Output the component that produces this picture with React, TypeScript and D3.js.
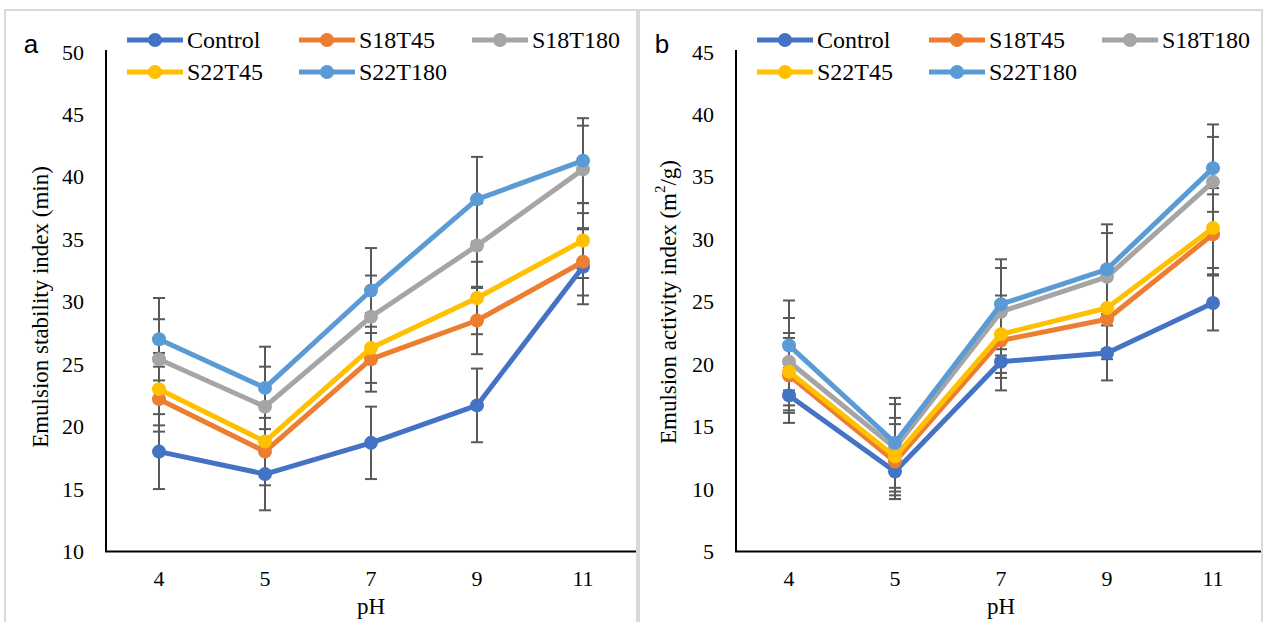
import React from "react";
import * as d3 from "d3";

const categories = ["4", "5", "7", "9", "11"];
const seriesNames = ["Control", "S18T45", "S18T180", "S22T45", "S22T180"];
const seriesColors = ["#4472C4", "#ED7D31", "#A5A5A5", "#FFC000", "#5B9BD5"];

// Panel a: Emulsion stability index (min)
const esiControl = [18.0, 16.2, 18.7, 21.7, 32.8];
const esiS18T45 = [22.2, 18.0, 25.4, 28.5, 33.2];
const esiS18T180 = [25.4, 21.6, 28.8, 34.5, 40.6];
const esiS22T45 = [23.0, 18.8, 26.3, 30.3, 34.9];
const esiS22T180 = [27.0, 23.1, 30.9, 38.2, 41.3];
const esiErrControl = [3.0, 2.9, 2.9, 2.95, 3.0];
const esiErrS18T45 = [2.6, 2.7, 2.6, 2.7, 2.7];
const esiErrS18T180 = [3.2, 3.2, 3.3, 3.4, 3.5];
const esiErrS22T45 = [2.9, 2.6, 2.8, 2.9, 3.0];
const esiErrS22T180 = [3.3, 3.3, 3.4, 3.4, 3.4];
const esiTicks = [10, 15, 20, 25, 30, 35, 40, 45, 50];

// Panel b: Emulsion activity index (m2/g)
const eaiControl = [17.5, 11.4, 20.2, 20.9, 24.9];
const eaiS18T45 = [19.1, 12.2, 21.9, 23.6, 30.4];
const eaiS18T180 = [20.2, 13.3, 24.2, 27.0, 34.6];
const eaiS22T45 = [19.4, 12.6, 22.4, 24.5, 30.9];
const eaiS22T180 = [21.5, 13.7, 24.8, 27.6, 35.7];
const eaiErrControl = [2.2, 2.2, 2.3, 2.2, 2.2];
const eaiErrS18T45 = [3.0, 3.0, 3.0, 3.2, 3.2];
const eaiErrS18T180 = [3.5, 3.5, 3.5, 3.5, 3.6];
const eaiErrS22T45 = [3.1, 3.1, 3.1, 3.3, 3.2];
const eaiErrS22T180 = [3.6, 3.6, 3.6, 3.6, 3.5];
const eaiTicks = [5, 10, 15, 20, 25, 30, 35, 40, 45];

const SERIF = "'Liberation Serif', 'Times New Roman', serif";
const SANS = "'Liberation Sans', Arial, sans-serif";

type PanelProps = {
  x0: number;
  frameX: number;
  frameW: number;
  axisEnd: number;
  label: string;
  domain: [number, number];
  ticks: number[];
  values: number[][];
  errors: number[][];
  title: React.ReactNode;
};

function Panel({ x0, frameX, frameW, axisEnd, label, domain, ticks, values, errors, title }: PanelProps) {
  const plotLeft = x0;
  const plotRight = x0 + 530;
  const top = 52;
  const bottom = 551.5;
  const x = d3.scalePoint<string>().domain(categories).range([plotLeft, plotRight]).padding(0.5);
  const y = d3.scaleLinear().domain(domain).range([bottom, top]);
  const line = d3
    .line<number>()
    .x((_, i) => x(categories[i]) as number)
    .y((d) => y(d));
  const legendCols = [21, 193, 366];
  const legendRows = [40, 72];
  const legendPos = seriesNames.map((_, i) => ({
    lx: plotLeft + legendCols[i % 3],
    ly: legendRows[Math.floor(i / 3)],
  }));
  const midX = (plotLeft + plotRight) / 2;
  return (
    <g>
      <rect x={frameX} y={10} width={frameW} height={640} fill="none" stroke="#d9d9d9" strokeWidth={2} />
      <text x={label === "a" ? 31 : 662} y={53} fontFamily={SANS} fontSize={26} textAnchor="middle">
        {label}
      </text>
      {/* y tick labels */}
      {ticks.map((t) => (
        <text
          key={t}
          x={plotLeft - 22}
          y={y(t)}
          fontFamily={SERIF}
          fontSize={22}
          textAnchor="end"
          dominantBaseline="central"
        >
          {t}
        </text>
      ))}
      {/* x tick labels */}
      {categories.map((c) => (
        <text key={c} x={x(c)} y={578} fontFamily={SERIF} fontSize={22} textAnchor="middle" dominantBaseline="central">
          {c}
        </text>
      ))}
      <text x={midX} y={606} fontFamily={SERIF} fontSize={23} textAnchor="middle" dominantBaseline="central">
        pH
      </text>
      {title}
      {/* error bars */}
      {values.map((vals, si) =>
        vals.map((v, i) => {
          const cx = x(categories[i]) as number;
          const e = errors[si][i];
          const y1 = y(v + e);
          const y2 = y(v - e);
          return (
            <g key={`e${si}-${i}`} stroke="#595959" strokeWidth={2}>
              <line x1={cx} x2={cx} y1={y1} y2={y2} />
              <line x1={cx - 6} x2={cx + 6} y1={y1} y2={y1} />
              <line x1={cx - 6} x2={cx + 6} y1={y2} y2={y2} />
            </g>
          );
        })
      )}
      {/* lines and markers */}
      {values.map((vals, si) => (
        <g key={`s${si}`}>
          <path d={line(vals) || ""} fill="none" stroke={seriesColors[si]} strokeWidth={5} strokeLinejoin="round" />
          {vals.map((v, i) => (
            <circle key={i} cx={x(categories[i])} cy={y(v)} r={7} fill={seriesColors[si]} />
          ))}
        </g>
      ))}
      {/* axes */}
      <line x1={plotLeft} x2={plotLeft} y1={top - 2} y2={bottom} stroke="#000" strokeWidth={2} />
      <line x1={plotLeft - 1} x2={axisEnd} y1={bottom} y2={bottom} stroke="#000" strokeWidth={2} />
      {/* legend */}
      {seriesNames.map((n, i) => {
        const { lx, ly } = legendPos[i];
        return (
          <g key={n}>
            <line x1={lx} x2={lx + 56} y1={ly} y2={ly} stroke={seriesColors[i]} strokeWidth={5} />
            <circle cx={lx + 28} cy={ly} r={7} fill={seriesColors[i]} />
            <text x={lx + 60} y={ly} fontFamily={SERIF} fontSize={24} dominantBaseline="central">
              {n}
            </text>
          </g>
        );
      })}
    </g>
  );
}

export default function App() {
  const esiValues = [esiControl, esiS18T45, esiS18T180, esiS22T45, esiS22T180];
  const esiErrors = [esiErrControl, esiErrS18T45, esiErrS18T180, esiErrS22T45, esiErrS22T180];
  const eaiValues = [eaiControl, eaiS18T45, eaiS18T180, eaiS22T45, eaiS22T180];
  const eaiErrors = [eaiErrControl, eaiErrS18T45, eaiErrS18T180, eaiErrS22T45, eaiErrS22T180];
  return (
    <svg
      width={1269}
      height={622}
      style={{ position: "absolute", left: 0, top: 0, background: "#fff" }}
    >
      <rect x={0} y={0} width={1269} height={622} fill="#fff" />
      <Panel
        x0={106}
        frameX={5}
        frameW={632}
        axisEnd={636}
        label="a"
        domain={[10, 50]}
        ticks={esiTicks}
        values={esiValues}
        errors={esiErrors}
        title={
          <text
            transform={`translate(40,307) rotate(-90)`}
            fontFamily={SERIF}
            fontSize={23}
            textAnchor="middle"
            dominantBaseline="central"
          >
            Emulsion stability index (min)
          </text>
        }
      />
      <Panel
        x0={736}
        frameX={639}
        frameW={623}
        axisEnd={1261}
        label="b"
        domain={[5, 45]}
        ticks={eaiTicks}
        values={eaiValues}
        errors={eaiErrors}
        title={
          <text
            transform={`translate(668,302) rotate(-90)`}
            fontFamily={SERIF}
            fontSize={23}
            textAnchor="middle"
            dominantBaseline="central"
          >
            Emulsion activity index (m
            <tspan baselineShift="super" fontSize={15}>
              2
            </tspan>
            /g)
          </text>
        }
      />
    </svg>
  );
}
